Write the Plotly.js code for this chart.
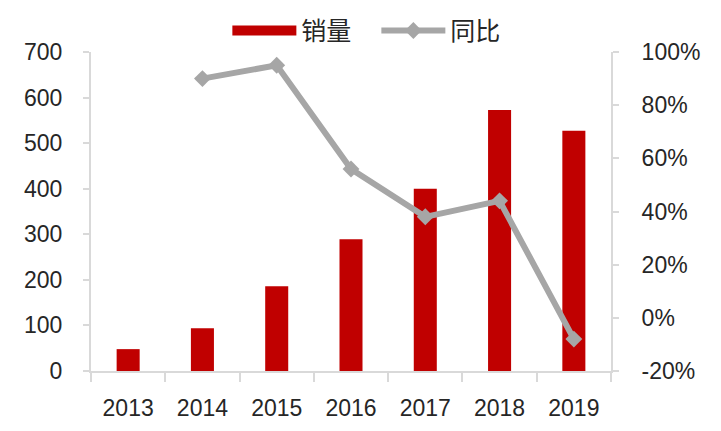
<!DOCTYPE html>
<html>
<head>
<meta charset="utf-8">
<script src="https://cdn.plot.ly/plotly-3.0.1.min.js"></script>
<style>
html,body{margin:0;padding:0;background:#fff}
#chart{width:721px;height:431px}
</style>
</head>
<body>
<div id="chart"></div>
<script>
// values
let years=["2013","2014","2015","2016","2017","2018","2019"]
let sales=[48,94,186,289,400,573,527]
let yoy=[null,90,95,56,38,44,-8]

// right axis ticks (hyphen minus like the original)
let pctTicks=[-20,0,20,40,60,80,100]
let pctLabels=["-20%","0%","20%","40%","60%","80%","100%"]

let red="#c00000"
let grey="#a6a6a6"
let axisGrey="#d9d9d9"
let tickFont={family:"Liberation Sans, Arial, sans-serif",size:23,color:"#262626"}

let traces=[

{
type:"bar",
x:years,
y:sales,
name:"销量",
marker:{color:red},
showlegend:false,
hoverinfo:"x+y"
},

// legend entry only, drawn as a wide red block like the original
{
type:"scatter",
mode:"lines",
x:[null],
y:[null],
name:"销量",
line:{color:red,width:15},
hoverinfo:"skip"
},

{
type:"scatter",
mode:"lines+markers",
x:years,
y:yoy,
yaxis:"y2",
name:"同比",
line:{color:grey,width:6},
marker:{symbol:"diamond",size:13,color:grey},
connectgaps:false
}

]

let layout={

width:721,
height:431,
margin:{l:91,r:110,t:52,b:60,autoexpand:false},
paper_bgcolor:"#fff",
plot_bgcolor:"#fff",
bargap:0.69,

xaxis:{
type:"category",
showgrid:false,
showline:true,
linecolor:axisGrey,
linewidth:2,
ticks:"outside",
tickson:"boundaries",
ticklen:9,
tickcolor:axisGrey,
tickwidth:2,
tickfont:tickFont,
ticklabelstandoff:15,
zeroline:false
},

yaxis:{
range:[0,700],
dtick:100,
showgrid:false,
zeroline:false,
showline:true,
linecolor:axisGrey,
linewidth:2,
ticks:"outside",
ticklen:6,
tickcolor:axisGrey,
tickwidth:2,
tickfont:tickFont,
ticklabelstandoff:16
},

yaxis2:{
overlaying:"y",
side:"right",
range:[-20,100],
tickmode:"array",
tickvals:pctTicks,
ticktext:pctLabels,
showgrid:false,
zeroline:false,
showline:true,
linecolor:axisGrey,
linewidth:2,
ticks:"outside",
ticklen:6,
tickcolor:axisGrey,
tickwidth:2,
tickfont:tickFont,
ticklabelstandoff:18
},

legend:{
orientation:"h",
x:0.522,
xanchor:"center",
xref:"container",
y:0.982,
yanchor:"top",
yref:"container",
itemwidth:64,
entrywidth:70,
font:{family:"Noto Sans CJK SC, sans-serif",size:25,color:"#262626"},
bgcolor:"rgba(0,0,0,0)"
}

}

Plotly.newPlot("chart",traces,layout,{staticPlot:true})
</script>
</body>
</html>
